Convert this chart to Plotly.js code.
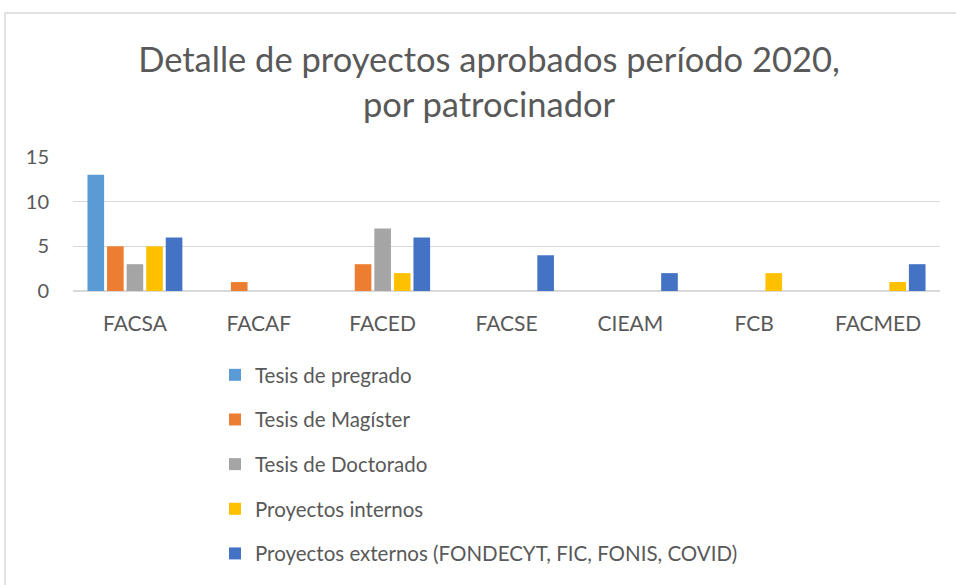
<!DOCTYPE html>
<html>
<head>
<meta charset="utf-8">
<script src="https://cdn.plot.ly/plotly-3.0.1.min.js"></script>
<style>html,body{margin:0;padding:0;background:#fff;}#chart{width:956px;height:585px;}</style>
</head>
<body>
<div id="chart"></div>
<script>
const categories = ["FACSA", "FACAF", "FACED", "FACSE", "CIEAM", "FCB", "FACMED"];
const seriesNames = ["Tesis de pregrado", "Tesis de Magíster", "Tesis de Doctorado", "Proyectos internos", "Proyectos externos (FONDECYT, FIC, FONIS, COVID)"];
const tesisPregrado = [13, 0, 0, 0, 0, 0, 0];
const tesisMagister = [5, 1, 3, 0, 0, 0, 0];
const tesisDoctorado = [3, 0, 7, 0, 0, 0, 0];
const proyectosInternos = [5, 0, 2, 0, 0, 2, 1];
const proyectosExternos = [6, 0, 6, 4, 2, 0, 3];
const colors = ["#5B9BD5", "#ED7D31", "#A5A5A5", "#FFC000", "#4472C4"];
const yTicks = [0, 5, 10, 15];

const values = [tesisPregrado, tesisMagister, tesisDoctorado, proyectosInternos, proyectosExternos];
const traces = values.map((v, i) => ({
  type: "bar",
  name: seriesNames[i],
  x: categories,
  y: v,
  marker: {color: colors[i]},
  legendgroup: "g" + i,
  hoverinfo: "x+y+name"
}));

const fontFam = "Lato, 'Open Sans', sans-serif";
const W = 956, H = 585, ml = 73, mr = 16, mt = 157, mb = 294;
const pw = W - ml - mr, ph = H - mt - mb;

const layout = {
  width: W, height: H,
  margin: {l: ml, r: mr, t: mt, b: mb, pad: 0, autoexpand: false},
  paper_bgcolor: "#fff",
  plot_bgcolor: "#fff",
  font: {family: fontFam, color: "#595959", size: 18},
  title: {
    text: "Detalle de proyectos aprobados período 2020,<br>por patrocinador",
    font: {family: fontFam, size: 34.5, color: "#595959"},
    x: 489 / W, xanchor: "center", xref: "container",
    y: 1 - 72 / H, yanchor: "middle", yref: "container"
  },
  barmode: "group",
  bargap: 0.21,
  bargroupgap: 0.15,
  xaxis: {
    tickfont: {size: 21, color: "#595959"},
    showgrid: false, showline: false, ticks: "",
    ticklabelstandoff: 18,
    automargin: false,
    fixedrange: true
  },
  yaxis: {
    range: [0, 15],
    tickvals: yTicks,
    tickfont: {size: 20, color: "#595959"},
    showgrid: true, gridcolor: "#D9D9D9", gridwidth: 1.5,
    zeroline: true, zerolinecolor: "#D9D9D9", zerolinewidth: 1.5,
    showline: false, ticks: "",
    ticklabelstandoff: 23,
    automargin: false,
    fixedrange: true
  },
  showlegend: true,
  legend: {
    orientation: "v",
    x: (215 - ml) / pw, xanchor: "left",
    y: (H - mb - 355) / ph, yanchor: "top",
    yref: "paper",
    font: {size: 20.5, color: "#595959", family: fontFam},
    tracegroupgap: 15,
    traceorder: "grouped",
    bgcolor: "rgba(0,0,0,0)"
  },
  shapes: [{
    type: "rect", xref: "paper", yref: "paper",
    x0: (5 - ml) / pw, x1: (W + 10 - ml) / pw,
    y0: -(H + 10 - (H - mb)) / ph, y1: 1 + (mt - 13) / ph,
    line: {color: "#D9D9D9", width: 1.5},
    fillcolor: "rgba(0,0,0,0)",
    layer: "below"
  }]
};

Plotly.newPlot("chart", traces, layout, {displayModeBar: false, staticPlot: true});
</script>
</body>
</html>
